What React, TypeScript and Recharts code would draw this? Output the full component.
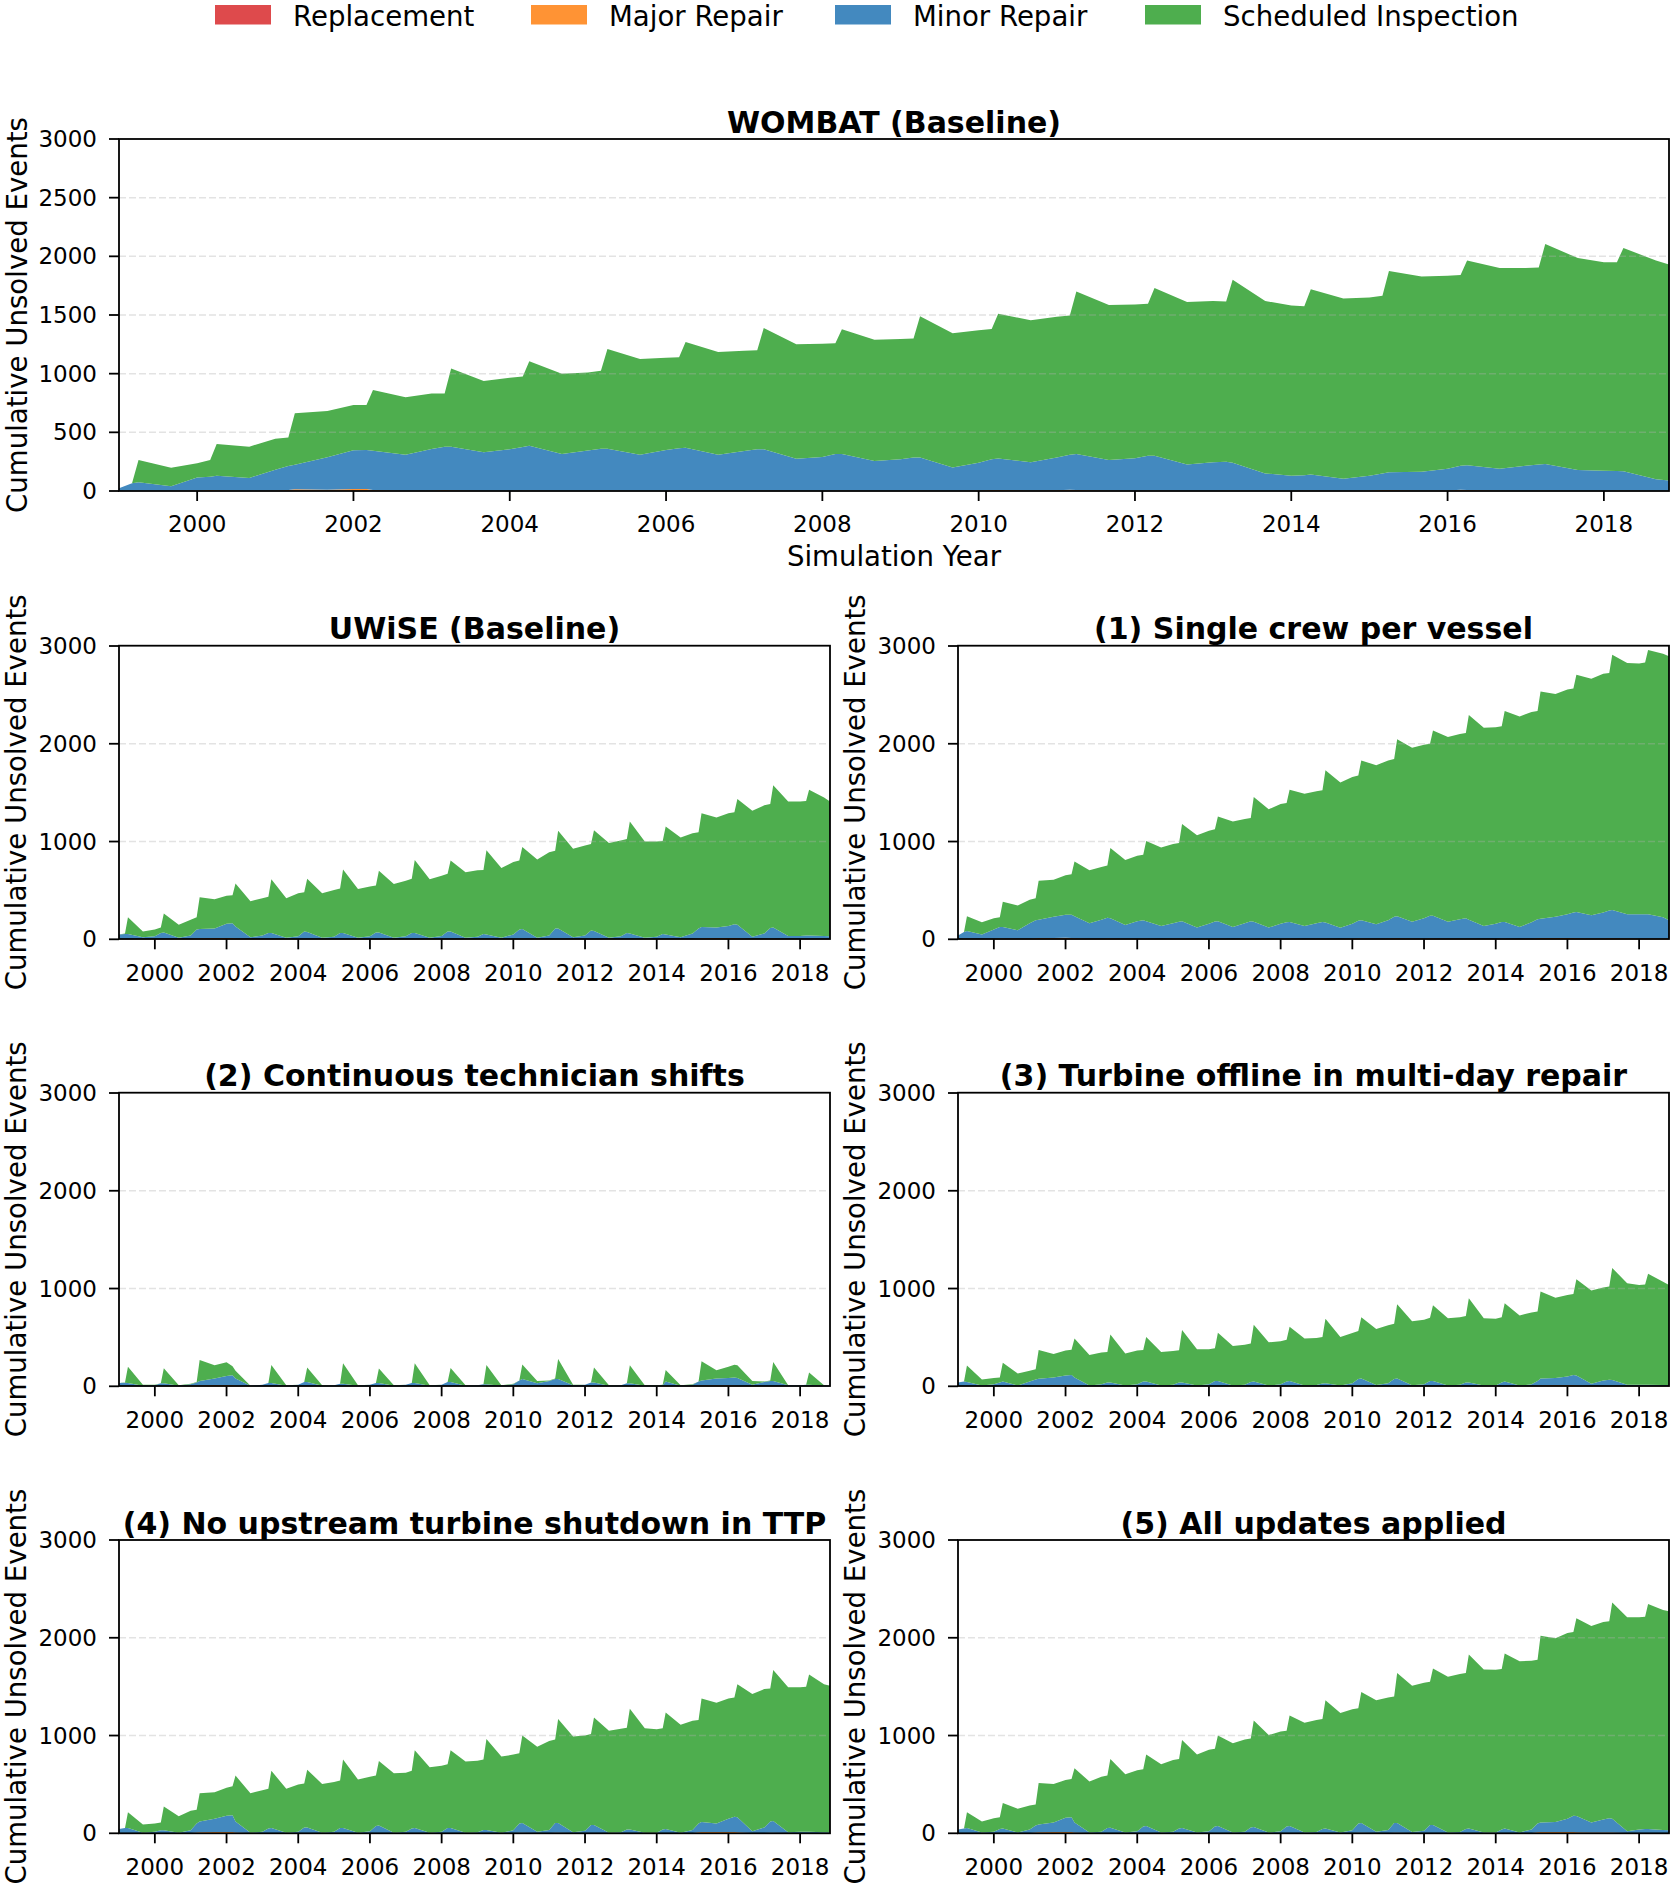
import React from 'react';
import { AreaChart, Area, XAxis, YAxis, ReferenceLine } from 'recharts';

const FONT = '"DejaVu Sans", sans-serif';

// sampling grid: one row per simulation year, values at Jan, Mar, Apr, Sep (+ Nov for the last year)
const years = [1999, 2000, 2001, 2002, 2003, 2004, 2005, 2006, 2007, 2008, 2009, 2010, 2011, 2012, 2013, 2014, 2015, 2016, 2017, 2018];
const sampleMonths = [0, 2, 3, 8];
const finalMonth = 10;
const xTicks = [2000, 2002, 2004, 2006, 2008, 2010, 2012, 2014, 2016, 2018];
const yTicksTop = [0, 500, 1000, 1500, 2000, 2500, 3000];
const yTicksSmall = [0, 1000, 2000, 3000];

const categories = ['Replacement', 'Major Repair', 'Minor Repair', 'Scheduled Inspection'];
const categoryColors = ['#de4a4c', '#ff9334', '#4389bf', '#4eae4e'];

// Replacement never shows above zero in any panel
const replacementCounts = [
  [0, 0, 0, 0], [0, 0, 0, 0], [0, 0, 0, 0], [0, 0, 0, 0], [0, 0, 0, 0],
  [0, 0, 0, 0], [0, 0, 0, 0], [0, 0, 0, 0], [0, 0, 0, 0], [0, 0, 0, 0],
  [0, 0, 0, 0], [0, 0, 0, 0], [0, 0, 0, 0], [0, 0, 0, 0], [0, 0, 0, 0],
  [0, 0, 0, 0], [0, 0, 0, 0], [0, 0, 0, 0], [0, 0, 0, 0], [0, 0, 0, 0, 0],
];

// ---- WOMBAT (Baseline): total unsolved, repair requests (repl + major + minor), major repairs
const wombatTotal = [
  [15, 65, 264, 199], [236, 264, 400, 378], [446, 455, 662, 682], [733, 733, 861, 798], [832, 832, 1045, 938],
  [965, 975, 1105, 1000], [1010, 1025, 1210, 1125], [1135, 1140, 1270, 1185], [1195, 1200, 1390, 1250], [1255, 1260, 1378, 1290],
  [1295, 1300, 1490, 1345], [1370, 1380, 1510, 1455], [1485, 1495, 1700, 1585], [1590, 1595, 1730, 1610], [1620, 1615, 1800, 1620],
  [1580, 1575, 1720, 1640], [1650, 1665, 1875, 1828], [1835, 1840, 1965, 1900], [1900, 1905, 2105, 1985], [1950, 1950, 2070, 1965, 1930],
];
const wombatRepairs = [
  [23, 65, 74, 40], [114, 122, 131, 111], [182, 213, 224, 287], [347, 349, 344, 310], [358, 378, 378, 330],
  [355, 375, 385, 315], [345, 360, 360, 310], [350, 365, 368, 310], [340, 355, 355, 275], [290, 315, 315, 255],
  [270, 285, 285, 200], [240, 270, 277, 245], [285, 310, 316, 265], [280, 300, 300, 225], [245, 250, 240, 150],
  [130, 135, 140, 105], [130, 150, 160, 165], [190, 215, 220, 190], [215, 225, 230, 180], [173, 170, 168, 100, 90],
];
const wombatMajor = [
  [0, 2, 3, 2], [5, 8, 6, 3], [4, 8, 15, 10], [18, 18, 8, 3], [4, 8, 6, 3],
  [3, 5, 5, 3], [3, 4, 4, 3], [3, 4, 4, 3], [3, 4, 4, 3], [3, 4, 4, 3],
  [3, 4, 4, 3], [5, 8, 8, 4], [6, 10, 8, 4], [3, 4, 4, 3], [3, 4, 4, 3],
  [3, 4, 4, 3], [5, 8, 8, 5], [5, 10, 8, 4], [3, 4, 4, 3], [3, 4, 4, 3, 3],
];

// ---- UWiSE (Baseline)
const uwiseTotal = [
  [50, 60, 225, 80], [100, 120, 265, 150], [200, 225, 430, 410], [445, 450, 570, 390], [420, 435, 615, 420],
  [470, 480, 620, 470], [505, 520, 715, 515], [540, 550, 700, 565], [600, 620, 810, 615], [650, 670, 805, 685],
  [705, 710, 910, 730], [790, 805, 945, 815], [890, 905, 1110, 925], [960, 975, 1115, 985], [1010, 1025, 1205, 1000],
  [1000, 1005, 1155, 1040], [1085, 1095, 1290, 1245], [1290, 1300, 1435, 1315], [1370, 1385, 1575, 1410], [1410, 1415, 1530, 1450, 1410],
];
const uwiseRepairs = [
  [50, 55, 55, 20], [30, 65, 70, 15], [40, 100, 105, 110], [160, 165, 130, 20], [40, 65, 65, 15],
  [30, 80, 75, 15], [25, 65, 65, 15], [30, 70, 70, 15], [30, 65, 65, 15], [35, 80, 80, 15],
  [25, 55, 50, 15], [50, 100, 105, 15], [40, 110, 110, 20], [40, 90, 85, 15], [30, 65, 60, 15],
  [25, 55, 50, 20], [60, 110, 125, 120], [135, 155, 150, 25], [60, 115, 120, 35], [35, 40, 40, 35, 30],
];
const uwiseMajor = [
  [3, 4, 4, 2], [2, 4, 4, 2], [4, 8, 10, 12], [14, 14, 8, 2], [2, 4, 4, 2],
  [2, 4, 4, 2], [2, 4, 4, 2], [2, 4, 4, 2], [2, 4, 4, 2], [2, 4, 4, 2],
  [2, 3, 3, 2], [3, 5, 6, 3], [3, 6, 6, 3], [2, 4, 4, 2], [2, 3, 3, 2],
  [2, 3, 3, 2], [4, 8, 10, 12], [12, 12, 10, 3], [3, 6, 6, 3], [3, 3, 3, 3, 3],
];

// ---- (1) Single crew per vessel
const singleCrewTotal = [
  [40, 60, 235, 175], [215, 225, 385, 345], [405, 420, 600, 610], [655, 665, 795, 705], [740, 755, 935, 810],
  [855, 865, 1005, 940], [975, 985, 1180, 1065], [1110, 1125, 1255, 1205], [1230, 1240, 1455, 1330], [1385, 1395, 1530, 1490],
  [1515, 1525, 1730, 1605], [1660, 1675, 1830, 1780], [1830, 1845, 2045, 1960], [1990, 2000, 2135, 2070], [2100, 2110, 2295, 2165],
  [2170, 2180, 2335, 2280], [2325, 2335, 2535, 2510], [2555, 2565, 2705, 2665], [2715, 2725, 2910, 2825], [2820, 2830, 2960, 2920, 2895],
];
const singleCrewRepairs = [
  [40, 75, 85, 50], [100, 125, 125, 92], [165, 195, 200, 230], [250, 250, 235, 165], [200, 220, 215, 145],
  [185, 195, 185, 135], [165, 180, 184, 120], [160, 183, 184, 125], [165, 184, 180, 120], [160, 175, 177, 136],
  [165, 177, 172, 119], [160, 190, 194, 153], [195, 230, 235, 180], [215, 240, 240, 180], [205, 215, 200, 136],
  [160, 177, 177, 126], [175, 205, 211, 230], [255, 275, 279, 245], [275, 295, 300, 255], [255, 255, 255, 225, 194],
];
const singleCrewMajor = [
  [3, 5, 5, 4], [5, 8, 8, 5], [6, 10, 12, 14], [15, 14, 10, 6], [6, 8, 8, 5],
  [5, 6, 6, 4], [5, 6, 6, 4], [5, 6, 6, 4], [5, 6, 6, 4], [5, 6, 6, 4],
  [5, 6, 6, 4], [6, 8, 8, 6], [8, 10, 10, 8], [6, 8, 8, 5], [5, 6, 6, 4],
  [4, 5, 5, 4], [6, 10, 12, 12], [12, 12, 10, 8], [8, 10, 10, 8], [6, 6, 6, 5, 5],
];

// ---- (2) Continuous technician shifts
const shiftsTotal = [
  [35, 40, 200, 15], [15, 30, 184, 10], [25, 45, 270, 215], [245, 205, 160, 5], [15, 35, 218, 10],
  [15, 45, 191, 10], [10, 25, 235, 10], [15, 35, 181, 10], [15, 35, 235, 10], [15, 45, 187, 10],
  [10, 20, 218, 10], [25, 60, 222, 55], [60, 80, 280, 15], [15, 40, 191, 10], [10, 30, 215, 10],
  [10, 15, 167, 10], [20, 50, 256, 165], [200, 220, 215, 55], [50, 60, 249, 10], [10, 15, 140, 10, 5],
];
const shiftsRepairs = [
  [35, 37, 35, 5], [10, 30, 30, 5], [20, 40, 55, 80], [105, 112, 80, 5], [15, 35, 35, 5],
  [15, 45, 45, 5], [10, 25, 25, 5], [15, 35, 35, 5], [15, 35, 35, 5], [15, 45, 45, 5],
  [10, 20, 20, 5], [20, 60, 75, 30], [55, 75, 75, 10], [15, 40, 40, 5], [10, 30, 30, 5],
  [5, 10, 50, 5], [15, 50, 60, 80], [85, 90, 85, 15], [45, 55, 55, 10], [10, 15, 15, 5, 5],
];
const shiftsMajor = [
  [1, 2, 2, 1], [1, 2, 2, 1], [5, 8, 10, 12], [14, 14, 8, 2], [1, 2, 2, 1],
  [1, 2, 2, 1], [1, 2, 2, 1], [1, 2, 2, 1], [1, 2, 2, 1], [1, 2, 2, 1],
  [1, 2, 2, 1], [2, 4, 5, 3], [3, 4, 4, 1], [1, 2, 2, 1], [1, 2, 2, 1],
  [1, 2, 2, 1], [3, 8, 10, 10], [10, 8, 6, 2], [2, 3, 3, 1], [1, 2, 2, 1, 1],
];

// ---- (3) Turbine offline in multi-day repair
const offlineTotal = [
  [40, 50, 212, 70], [85, 90, 240, 130], [160, 175, 370, 330], [365, 375, 490, 320], [345, 350, 530, 335],
  [365, 372, 503, 350], [360, 368, 575, 378], [378, 390, 548, 412], [425, 438, 630, 450], [462, 475, 610, 490],
  [493, 505, 690, 505], [545, 565, 705, 585], [625, 640, 840, 665], [680, 700, 830, 695], [705, 720, 900, 695],
  [692, 705, 850, 725], [755, 765, 970, 905], [935, 945, 1095, 980], [1010, 1020, 1210, 1055], [1035, 1040, 1150, 1070, 1035],
];
const offlineRepairs = [
  [40, 48, 45, 7], [20, 40, 50, 7], [50, 70, 78, 90], [110, 115, 90, 7], [20, 40, 38, 7],
  [20, 50, 50, 7], [15, 38, 40, 7], [20, 55, 55, 7], [15, 45, 50, 7], [20, 50, 55, 7],
  [12, 28, 30, 7], [30, 75, 80, 12], [30, 75, 80, 10], [20, 55, 55, 7], [15, 40, 38, 7],
  [7, 40, 50, 7], [20, 55, 80, 85], [100, 115, 110, 25], [60, 68, 65, 15], [15, 15, 15, 12, 12],
];
const offlineMajor = [
  [2, 3, 3, 2], [2, 3, 3, 2], [4, 8, 10, 12], [12, 12, 8, 3], [2, 3, 3, 2],
  [2, 3, 3, 2], [2, 3, 3, 2], [2, 3, 3, 2], [2, 3, 3, 2], [2, 3, 3, 2],
  [2, 3, 3, 2], [3, 5, 5, 3], [3, 5, 5, 3], [2, 3, 3, 2], [2, 3, 3, 2],
  [2, 3, 3, 2], [4, 8, 10, 12], [12, 12, 10, 4], [4, 5, 5, 3], [3, 4, 4, 4, 4],
];

// ---- (4) No upstream turbine shutdown in TTP
const noShutdownTotal = [
  [25, 40, 215, 90], [100, 110, 275, 175], [230, 240, 410, 420], [465, 480, 590, 410], [440, 455, 640, 455],
  [500, 510, 650, 505], [525, 540, 755, 550], [578, 590, 740, 615], [620, 640, 850, 675], [690, 705, 850, 735],
  [742, 755, 965, 785], [805, 820, 1000, 885], [945, 960, 1170, 990], [1000, 1015, 1185, 1050], [1070, 1080, 1275, 1075],
  [1065, 1075, 1235, 1110], [1150, 1160, 1380, 1335], [1380, 1390, 1525, 1425], [1475, 1480, 1670, 1495], [1495, 1500, 1625, 1525, 1510],
];
const noShutdownRepairs = [
  [45, 55, 55, 5], [15, 30, 30, 5], [30, 100, 120, 150], [180, 185, 120, 5], [15, 50, 55, 5],
  [15, 60, 60, 5], [15, 55, 55, 5], [20, 75, 80, 5], [15, 50, 55, 5], [15, 55, 55, 5],
  [10, 35, 35, 5], [30, 100, 105, 15], [35, 105, 105, 10], [25, 85, 85, 5], [10, 40, 40, 5],
  [5, 40, 45, 5], [35, 100, 115, 100], [150, 170, 165, 20], [60, 120, 125, 10], [15, 15, 15, 10, 10],
];
const noShutdownMajor = [
  [2, 3, 3, 1], [1, 3, 3, 1], [4, 8, 10, 12], [14, 14, 8, 2], [2, 3, 3, 1],
  [2, 3, 3, 1], [2, 3, 3, 1], [2, 3, 3, 1], [2, 3, 3, 1], [2, 3, 3, 1],
  [1, 3, 3, 1], [3, 5, 6, 3], [3, 6, 6, 2], [2, 3, 3, 1], [1, 3, 3, 1],
  [1, 3, 3, 1], [4, 10, 12, 12], [12, 12, 10, 3], [3, 6, 6, 2], [2, 3, 3, 2, 2],
];

// ---- (5) All updates applied
const allUpdatesTotal = [
  [20, 35, 215, 120], [155, 165, 310, 250], [285, 295, 515, 505], [545, 555, 665, 530], [578, 590, 760, 605],
  [645, 655, 805, 705], [750, 760, 955, 805], [855, 865, 1000, 920], [960, 970, 1155, 1005], [1040, 1050, 1205, 1130],
  [1160, 1170, 1360, 1230], [1270, 1280, 1445, 1360], [1390, 1400, 1640, 1510], [1540, 1550, 1685, 1600], [1630, 1640, 1830, 1675],
  [1672, 1680, 1840, 1760], [1765, 1775, 2020, 1995], [2050, 2060, 2200, 2120], [2160, 2170, 2360, 2210], [2210, 2215, 2345, 2285, 2270],
];
const allUpdatesRepairs = [
  [40, 50, 55, 8], [15, 45, 48, 8], [40, 80, 90, 110], [160, 165, 110, 8], [15, 55, 58, 8],
  [20, 70, 75, 8], [15, 50, 55, 8], [20, 70, 75, 8], [15, 60, 65, 8], [20, 70, 75, 8],
  [12, 45, 48, 8], [30, 100, 105, 15], [35, 105, 105, 12], [25, 85, 85, 8], [12, 45, 48, 8],
  [8, 40, 48, 8], [40, 100, 110, 115], [150, 180, 178, 110], [140, 155, 150, 20], [40, 45, 45, 35, 30],
];
const allUpdatesMajor = [
  [2, 3, 3, 2], [2, 3, 3, 2], [4, 8, 10, 12], [14, 14, 8, 3], [2, 3, 3, 2],
  [2, 3, 3, 2], [2, 3, 3, 2], [2, 3, 3, 2], [2, 3, 3, 2], [2, 3, 3, 2],
  [2, 3, 3, 2], [3, 5, 6, 3], [3, 6, 6, 3], [2, 3, 3, 2], [2, 3, 3, 2],
  [2, 3, 3, 2], [4, 10, 12, 12], [12, 12, 10, 8], [8, 8, 8, 3], [3, 4, 4, 4, 4],
];

type Row = { t: number; replacement: number; major: number; minor: number; inspection: number };

function buildRows(total: number[][], repairs: number[][], major: number[][]): Row[] {
  const rows: Row[] = [];
  years.forEach((year, i) => {
    const months = i === years.length - 1 ? [...sampleMonths, finalMonth] : sampleMonths;
    months.forEach((m, j) => {
      const repl = replacementCounts[i][j];
      const maj = major[i][j];
      const rep = repairs[i][j];
      rows.push({
        t: year + m / 12,
        replacement: repl,
        major: maj,
        minor: Math.max(0, rep - maj - repl),
        inspection: Math.max(0, total[i][j] - rep),
      });
    });
  });
  return rows;
}

const X_MIN = 1999;
const X_MAX = 2018 + finalMonth / 12;

type PanelDef = { title: string; rows: Row[]; x: number; y: number; w: number; h: number; yTicks: number[] };

const LEFT_X = 119;
const RIGHT_X = 958;
const SMALL_W = 711;
const SMALL_H = 293.3;
const ROW_Y = [645.7, 1092.7, 1540];

const panels: PanelDef[] = [
  { title: 'WOMBAT (Baseline)', rows: buildRows(wombatTotal, wombatRepairs, wombatMajor), x: 119, y: 139, w: 1550, h: 352, yTicks: yTicksTop },
  { title: 'UWiSE (Baseline)', rows: buildRows(uwiseTotal, uwiseRepairs, uwiseMajor), x: LEFT_X, y: ROW_Y[0], w: SMALL_W, h: SMALL_H, yTicks: yTicksSmall },
  { title: '(1) Single crew per vessel', rows: buildRows(singleCrewTotal, singleCrewRepairs, singleCrewMajor), x: RIGHT_X, y: ROW_Y[0], w: SMALL_W, h: SMALL_H, yTicks: yTicksSmall },
  { title: '(2) Continuous technician shifts', rows: buildRows(shiftsTotal, shiftsRepairs, shiftsMajor), x: LEFT_X, y: ROW_Y[1], w: SMALL_W, h: SMALL_H, yTicks: yTicksSmall },
  { title: '(3) Turbine offline in multi-day repair', rows: buildRows(offlineTotal, offlineRepairs, offlineMajor), x: RIGHT_X, y: ROW_Y[1], w: SMALL_W, h: SMALL_H, yTicks: yTicksSmall },
  { title: '(4) No upstream turbine shutdown in TTP', rows: buildRows(noShutdownTotal, noShutdownRepairs, noShutdownMajor), x: LEFT_X, y: ROW_Y[2], w: SMALL_W, h: SMALL_H, yTicks: yTicksSmall },
  { title: '(5) All updates applied', rows: buildRows(allUpdatesTotal, allUpdatesRepairs, allUpdatesMajor), x: RIGHT_X, y: ROW_Y[2], w: SMALL_W, h: SMALL_H, yTicks: yTicksSmall },
];

const seriesKeys = ['replacement', 'major', 'minor', 'inspection'];
const tickStyle = { fontSize: 23, fill: '#000', fontFamily: FONT };
const tickLineStyle = { stroke: '#000', strokeWidth: 1.8 };

function Panel({ p }: { p: PanelDef }) {
  const axisW = 100;
  const top = 20;
  const right = 2;
  const axisH = 50;
  return (
    <div style={{ position: 'absolute', left: p.x - axisW, top: p.y - top }}>
      <AreaChart width={axisW + p.w + right} height={top + p.h + axisH} data={p.rows} margin={{ top, right, bottom: 0, left: 0 }}>
        <XAxis
          dataKey="t"
          type="number"
          domain={[X_MIN, X_MAX]}
          allowDataOverflow
          ticks={xTicks}
          interval={0}
          height={axisH}
          tickSize={10}
          tickMargin={15}
          axisLine={false}
          tickLine={tickLineStyle}
          tick={tickStyle}
          tickFormatter={(v: number) => String(v)}
        />
        <YAxis
          type="number"
          domain={[0, 3000]}
          ticks={p.yTicks}
          interval={0}
          width={axisW}
          tickSize={10}
          tickMargin={12}
          axisLine={false}
          tickLine={tickLineStyle}
          tick={tickStyle}
        />
        {seriesKeys.map((k, i) => (
          <Area
            key={k}
            type="linear"
            dataKey={k}
            stackId="s"
            stroke="none"
            fill={categoryColors[i]}
            fillOpacity={1}
            dot={false}
            activeDot={false}
            isAnimationActive={false}
          />
        ))}
        {p.yTicks.filter((v) => v > 0 && v < 3000).map((v) => (
          <ReferenceLine key={v} y={v} stroke="#b0b0b0" strokeOpacity={0.35} strokeWidth={1.5} strokeDasharray="7 3" />
        ))}
      </AreaChart>
    </div>
  );
}

const legendSwatchX = [215, 531, 835, 1145];

export default function App() {
  return (
    <div style={{ position: 'absolute', left: 0, top: 0, width: 1671, height: 1887, overflow: 'hidden', background: '#fff' }}>
      {panels.map((p) => (
        <Panel key={p.title} p={p} />
      ))}
      <svg width={1671} height={1887} style={{ position: 'absolute', left: 0, top: 0, pointerEvents: 'none' }} fontFamily={FONT}>
        {categories.map((c, i) => (
          <g key={c}>
            <rect x={legendSwatchX[i]} y={5} width={56} height={19.5} fill={categoryColors[i]} />
            <text x={legendSwatchX[i] + 78} y={26} fontSize={27.6} fill="#000">{c}</text>
          </g>
        ))}
        {panels.map((p, i) => {
          const labelX = p.x - 92.5;
          return (
            <g key={p.title}>
              <rect x={p.x} y={p.y} width={p.w} height={p.h} fill="none" stroke="#000" strokeWidth={1.8} />
              <text x={p.x + p.w / 2} y={p.y - 6.5} textAnchor="middle" fontSize={30} fontWeight="bold" fill="#000">{p.title}</text>
              <text
                x={labelX}
                y={p.y + p.h / 2}
                transform={`rotate(-90, ${labelX}, ${p.y + p.h / 2})`}
                textAnchor="middle"
                fontSize={27.6}
                fill="#000"
              >
                Cumulative Unsolved Events
              </text>
              {i === 0 ? (
                <text x={p.x + p.w / 2} y={566} textAnchor="middle" fontSize={27.6} fill="#000">Simulation Year</text>
              ) : null}
            </g>
          );
        })}
      </svg>
    </div>
  );
}
